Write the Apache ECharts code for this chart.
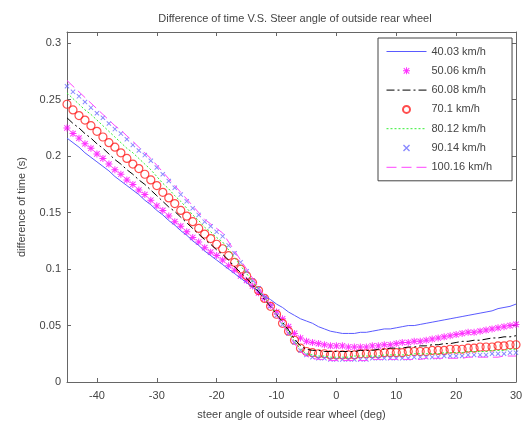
<!DOCTYPE html>
<html><head><meta charset="utf-8">
<script src="https://cdn.jsdelivr.net/npm/echarts@6/dist/echarts.min.js"></script>
<style>html,body{margin:0;padding:0;background:#fff}#c{width:526px;height:425px}</style>
</head><body><div id="c"></div>
<script>
var angles = [];
for (var a = -45; a <= 30; a++) angles.push(a);

var xTicks = [-40, -30, -20, -10, 0, 10, 20, 30];
var yTicks = [0, 0.05, 0.1, 0.15, 0.2, 0.25, 0.3];
var names = ['40.03 km/h', '50.06 km/h', '60.08 km/h', '70.1 km/h', '80.12 km/h', '90.14 km/h', '100.16 km/h'];

var v40 = [.216,.212,.208,.203,.199,.195,.191,.187,.182,.178,.174,.170,.166,.161,.157,.152,.148,.143,.139,.134,.130,.125,.121,.116,.112,.108,.104,.100,.096,.092,.088,.084,.080,.076,.073,.069,.066,.062,.059,.056,.054,.052,.049,.047,.045,.044,.043,.043,.043,.044,.044,.045,.046,.047,.047,.048,.049,.050,.050,.051,.052,.053,.054,.055,.056,.057,.058,.059,.060,.061,.062,.063,.065,.066,.067,.069];
var v50 = [.225,.220,.216,.211,.207,.202,.198,.193,.188,.184,.179,.175,.170,.166,.161,.156,.152,.147,.142,.138,.133,.128,.124,.119,.115,.112,.108,.103,.099,.094,.090,.085,.079,.074,.068,.062,.056,.049,.043,.039,.036,.035,.034,.033,.032,.032,.032,.031,.031,.031,.031,.032,.032,.033,.033,.034,.035,.035,.036,.036,.037,.038,.039,.040,.041,.042,.043,.044,.044,.045,.046,.047,.048,.049,.050,.051];
var v60 = [.234,.229,.225,.220,.216,.211,.207,.202,.197,.193,.188,.184,.179,.175,.170,.165,.160,.155,.151,.146,.141,.136,.131,.126,.122,.117,.113,.108,.102,.097,.092,.086,.080,.073,.067,.060,.053,.046,.038,.032,.029,.028,.028,.027,.027,.027,.027,.027,.027,.028,.028,.028,.029,.029,.030,.030,.030,.031,.031,.032,.032,.033,.033,.034,.034,.035,.036,.036,.037,.037,.038,.039,.039,.040,.040,.041];
var v70 = [.246,.241,.236,.232,.227,.222,.217,.212,.208,.203,.198,.193,.189,.184,.179,.174,.168,.163,.158,.152,.147,.142,.136,.131,.127,.122,.118,.112,.106,.100,.094,.088,.081,.074,.067,.060,.052,.045,.037,.030,.027,.026,.025,.025,.024,.024,.024,.024,.024,.025,.025,.025,.025,.026,.026,.026,.026,.027,.027,.027,.027,.028,.028,.028,.029,.029,.029,.030,.030,.031,.031,.031,.032,.032,.033,.033];
var v80 = [.256,.251,.246,.241,.237,.232,.227,.222,.217,.212,.207,.203,.198,.193,.188,.182,.176,.171,.165,.160,.154,.148,.143,.137,.133,.128,.124,.117,.110,.103,.096,.089,.082,.075,.068,.060,.052,.044,.036,.029,.025,.024,.023,.023,.022,.022,.022,.022,.023,.023,.023,.023,.023,.024,.024,.024,.024,.024,.025,.025,.025,.025,.025,.026,.026,.026,.026,.027,.027,.027,.027,.028,.028,.028,.029,.029];
var v90 = [.262,.257,.253,.248,.243,.238,.234,.229,.224,.220,.215,.210,.205,.201,.196,.190,.184,.178,.172,.166,.160,.154,.148,.142,.138,.133,.129,.121,.114,.106,.098,.090,.083,.075,.067,.059,.051,.043,.035,.028,.024,.022,.021,.021,.020,.020,.020,.020,.020,.020,.020,.021,.021,.021,.021,.021,.021,.021,.022,.022,.022,.022,.022,.023,.023,.023,.023,.024,.024,.024,.024,.025,.025,.025,.026,.026];
var v100 = [.267,.262,.257,.252,.247,.242,.237,.232,.227,.223,.218,.213,.208,.203,.198,.192,.186,.180,.174,.168,.162,.156,.150,.144,.140,.136,.132,.124,.116,.108,.100,.092,.084,.076,.068,.059,.051,.042,.034,.027,.023,.021,.020,.020,.019,.019,.019,.019,.019,.019,.019,.020,.020,.020,.020,.020,.020,.020,.020,.020,.021,.021,.021,.021,.021,.021,.021,.022,.022,.022,.022,.022,.022,.023,.023,.023];

function pairs(v) { return angles.map(function (x, i) { return [x, v[i]]; }); }

var STAR = 'path://M4.3,0h1.4v10h-1.4z M0,4.3h10v1.4h-10z M0.6,1.6L1.6,0.6L9.4,8.4L8.4,9.4z M8.4,0.6L9.4,1.6L1.6,9.4L0.6,8.4z';
var XMARK = 'path://M0.6,1.8L1.8,0.6L9.4,8.2L8.2,9.4z M8.2,0.6L9.4,1.8L1.8,9.4L0.6,8.2z';

var chart = echarts.init(document.getElementById('c'), null, {renderer: 'canvas'});
var axisCol = '#666';
var txt = {color: '#444', fontFamily: 'Liberation Sans, Arial, sans-serif', fontSize: 11};

function xAx(pos, show) {
  return {
    type: 'value', position: pos, min: -45, max: 30,
    axisLine: {show: true, onZero: false, lineStyle: {color: axisCol, width: 1}},
    axisTick: {show: true, inside: true, length: 4, customValues: xTicks, lineStyle: {color: axisCol}},
    axisLabel: show ? Object.assign({show: true, customValues: xTicks, margin: 8}, txt) : {show: false},
    splitLine: {show: false},
    name: show ? 'steer angle of outside rear wheel (deg)' : '',
    nameLocation: 'middle', nameGap: 27, nameTextStyle: txt
  };
}
function yAx(pos, show) {
  return {
    type: 'value', position: pos, min: 0, max: 0.31,
    axisLine: {show: true, onZero: false, lineStyle: {color: axisCol, width: 1}},
    axisTick: {show: true, inside: true, length: 4, customValues: yTicks, lineStyle: {color: axisCol}},
    axisLabel: show ? Object.assign({show: true, customValues: yTicks, margin: 6,
      formatter: function (v) { return String(+v.toFixed(2)); }}, txt) : {show: false},
    splitLine: {show: false},
    name: show ? 'difference of time (s)' : '',
    nameLocation: 'middle', nameGap: 40, nameRotate: 90, nameTextStyle: txt
  };
}

var lineItem = function (n) { return {name: n, itemStyle: {opacity: 0}}; };

chart.setOption({
  animation: false,
  backgroundColor: '#fff',
  title: {
    text: 'Difference of time V.S. Steer angle of outside rear wheel',
    left: 290, top: 8, textAlign: 'center',
    textStyle: {color: '#444', fontFamily: 'Liberation Sans, Arial, sans-serif', fontSize: 11, fontWeight: 'normal'}
  },
  grid: {left: 67, right: 10, top: 32, bottom: 41, containLabel: false},
  xAxis: [xAx('bottom', true), xAx('top', false)],
  yAxis: [yAx('left', true), yAx('right', false)],
  legend: {
    orient: 'vertical', left: 378, top: 38,
    borderColor: '#444', borderWidth: 1, backgroundColor: '#fff',
    padding: [8, 20, 8, 8],
    itemWidth: 40, itemHeight: 7, itemGap: 8.3,
    textStyle: txt,
    lineStyle: {width: 1},
    data: [lineItem(names[0]), names[1], lineItem(names[2]), names[3], lineItem(names[4]), names[5], lineItem(names[6])]
  },
  series: [
    {name: names[0], type: 'line', data: pairs(v40), showSymbol: false, symbol: 'none',
     lineStyle: {color: '#5a5aff', width: 1}, itemStyle: {color: '#5a5aff'}},
    {name: names[1], type: 'scatter', data: pairs(v50), symbol: STAR, symbolSize: 7,
     itemStyle: {color: '#ff00ff'}},
    {name: names[2], type: 'line', data: pairs(v60), showSymbol: false, symbol: 'none',
     lineStyle: {color: '#000', width: 1, type: [8, 3, 2, 3]}, itemStyle: {color: '#000'}},
    {name: names[3], type: 'scatter', data: pairs(v70), symbol: 'circle', symbolSize: 8,
     itemStyle: {color: 'rgba(255,255,255,0)', borderColor: '#ff2020', borderWidth: 1.2}},
    {name: names[4], type: 'line', data: pairs(v80), showSymbol: false, symbol: 'none',
     lineStyle: {color: '#33ee33', width: 1, type: [2, 2]}, itemStyle: {color: '#33ee33'}},
    {name: names[5], type: 'scatter', data: pairs(v90), symbol: XMARK, symbolSize: 5,
     itemStyle: {color: '#6a6aff'}},
    {name: names[6], type: 'line', data: pairs(v100), showSymbol: false, symbol: 'none',
     lineStyle: {color: '#ff44ff', width: 1, type: [10, 5]}, itemStyle: {color: '#ff44ff'}}
  ]
});
</script></body></html>
